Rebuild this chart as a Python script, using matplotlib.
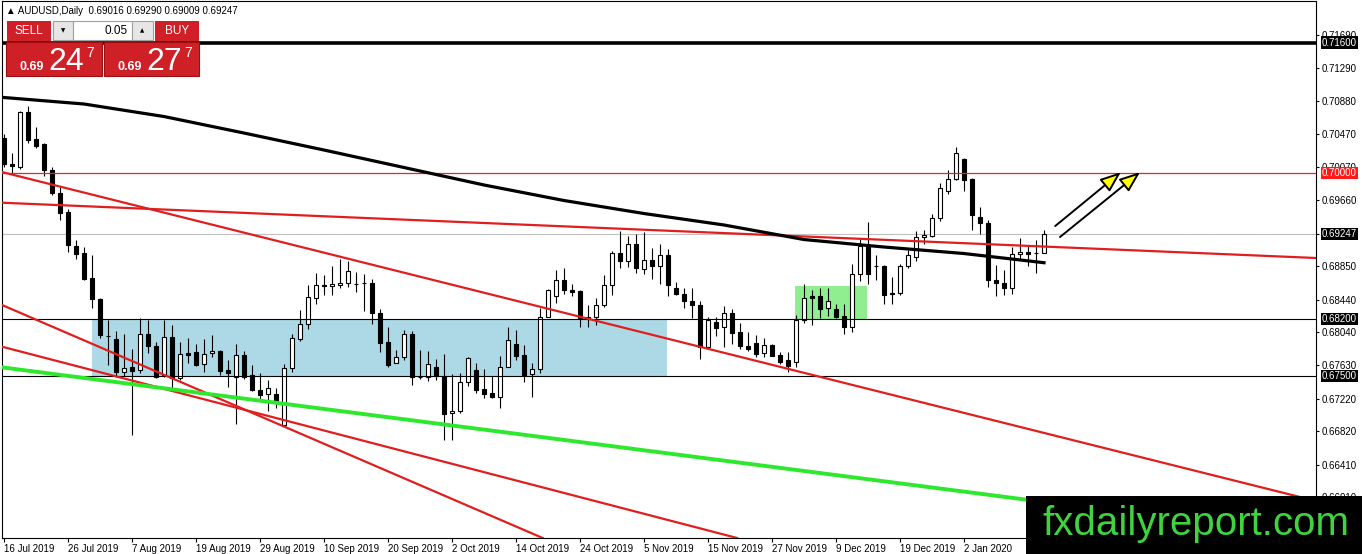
import numpy as np
import matplotlib
matplotlib.use("Agg")
import matplotlib.pyplot as plt
from matplotlib.patches import Rectangle

plt.rcParams["font.family"] = ["Liberation Sans", "DejaVu Sans"]

# AUDUSD daily candles, bar 0 = 16 Jul 2019
opens = [0.70432, 0.70110, 0.70073, 0.70751, 0.70413, 0.70355, 0.70037, 0.69748, 0.69514, 0.69093,
         0.69011, 0.68711, 0.68444, 0.67995, 0.67951, 0.67553, 0.67615, 0.67574, 0.68012, 0.67868,
         0.67513, 0.67983, 0.67472, 0.67779, 0.67791, 0.67648, 0.67779, 0.67807, 0.67574, 0.67492,
         0.67758, 0.67513, 0.67329, 0.67277, 0.67280, 0.66901, 0.67595, 0.67954, 0.68134, 0.68453,
         0.68616, 0.68604, 0.68616, 0.68644, 0.68637, 0.68649, 0.68649, 0.68269, 0.67919, 0.67664,
         0.67738, 0.68012, 0.67492, 0.67492, 0.67615, 0.67500, 0.67044, 0.67064, 0.67420, 0.67574,
         0.67337, 0.67289, 0.67247, 0.67615, 0.67889, 0.67758, 0.67525, 0.67582, 0.68228, 0.68481,
         0.68677, 0.68561, 0.68542, 0.68196, 0.68228, 0.68379, 0.68625, 0.69011, 0.68914, 0.69127,
         0.68820, 0.68931, 0.68849, 0.68984, 0.68576, 0.68514, 0.68420, 0.68379, 0.67860, 0.68166,
         0.68105, 0.68269, 0.68036, 0.67872, 0.67901, 0.67779, 0.67881, 0.67758, 0.67697, 0.67676,
         0.68187, 0.68481, 0.68481, 0.68330, 0.68322, 0.68236, 0.68097, 0.68751, 0.69093, 0.68849,
         0.68849, 0.68526, 0.68522, 0.68849, 0.68962, 0.69207, 0.69216, 0.69445, 0.69771, 0.69923,
         0.70168, 0.69923, 0.69461, 0.69384, 0.68685, 0.68649, 0.68576, 0.68995, 0.69024, 0.69011,
         0.69016]
highs = [0.70478, 0.70245, 0.70759, 0.70821, 0.70563, 0.70371, 0.70073, 0.69820, 0.69555, 0.69167,
         0.69085, 0.68993, 0.68457, 0.68187, 0.68056, 0.68016, 0.67828, 0.68215, 0.68187, 0.67921,
         0.68187, 0.68126, 0.67921, 0.67963, 0.67893, 0.67951, 0.68003, 0.67820, 0.67697, 0.67893,
         0.67811, 0.67636, 0.67533, 0.67452, 0.67350, 0.67648, 0.68012, 0.68309, 0.68616, 0.68763,
         0.68742, 0.68849, 0.68940, 0.68914, 0.68775, 0.68751, 0.68698, 0.68318, 0.68097, 0.67820,
         0.68065, 0.68052, 0.67820, 0.67807, 0.67705, 0.67770, 0.67525, 0.67533, 0.67738, 0.67657,
         0.67582, 0.67505, 0.67746, 0.68105, 0.68065, 0.67881, 0.67657, 0.68330, 0.68570, 0.68800,
         0.68833, 0.68628, 0.68560, 0.68371, 0.68453, 0.68739, 0.69036, 0.69282, 0.69216, 0.69249,
         0.69269, 0.69078, 0.69127, 0.69065, 0.68656, 0.68576, 0.68576, 0.68420, 0.68228, 0.68228,
         0.68358, 0.68322, 0.68146, 0.68036, 0.68003, 0.67963, 0.67890, 0.67799, 0.67799, 0.68248,
         0.68628, 0.68555, 0.68576, 0.68576, 0.68387, 0.68383, 0.68873, 0.69187, 0.69391, 0.68984,
         0.68860, 0.68718, 0.68882, 0.69054, 0.69289, 0.69298, 0.69494, 0.69869, 0.70033, 0.70322,
         0.70180, 0.69930, 0.69584, 0.69421, 0.68861, 0.68808, 0.69085, 0.69200, 0.69106, 0.69167,
         0.69290]
lows = [0.70073, 0.70000, 0.70049, 0.70371, 0.70302, 0.69963, 0.69730, 0.69421, 0.69024, 0.68940,
        0.68677, 0.68330, 0.67963, 0.67636, 0.67492, 0.67500, 0.66778, 0.67533, 0.67779, 0.67472,
        0.67492, 0.67350, 0.67452, 0.67657, 0.67623, 0.67553, 0.67738, 0.67513, 0.67370, 0.66913,
        0.67460, 0.67309, 0.67186, 0.67064, 0.67105, 0.66890, 0.67553, 0.67933, 0.68073, 0.68383,
        0.68493, 0.68493, 0.68579, 0.68591, 0.68534, 0.68301, 0.68138, 0.67799, 0.67608, 0.67657,
        0.67697, 0.67391, 0.67460, 0.67443, 0.67452, 0.66717, 0.66708, 0.67044, 0.67378, 0.67296,
        0.67228, 0.67228, 0.67105, 0.67608, 0.67697, 0.67431, 0.67240, 0.67533, 0.68220, 0.68399,
        0.68506, 0.68481, 0.68105, 0.68097, 0.68126, 0.68350, 0.68493, 0.68833, 0.68840, 0.68767,
        0.68759, 0.68698, 0.68628, 0.68481, 0.68493, 0.68330, 0.68208, 0.67705, 0.67850, 0.67987,
        0.67853, 0.67893, 0.67832, 0.67811, 0.67738, 0.67730, 0.67740, 0.67648, 0.67546, 0.67615,
        0.68154, 0.68126, 0.68208, 0.68236, 0.68208, 0.68012, 0.68044, 0.68669, 0.68636, 0.68685,
        0.68391, 0.68391, 0.68493, 0.68833, 0.68914, 0.69127, 0.69207, 0.69404, 0.69741, 0.69910,
        0.69780, 0.69296, 0.69249, 0.68595, 0.68485, 0.68502, 0.68514, 0.68926, 0.68852, 0.68767,
        0.69009]
closes = [0.70110, 0.70086, 0.70751, 0.70404, 0.70331, 0.70033, 0.69755, 0.69501, 0.69114, 0.68995,
          0.68698, 0.68444, 0.68003, 0.67990, 0.67553, 0.67595, 0.67566, 0.68012, 0.67868, 0.67492,
          0.67976, 0.67472, 0.67767, 0.67758, 0.67636, 0.67767, 0.67807, 0.67566, 0.67541, 0.67758,
          0.67484, 0.67329, 0.67268, 0.67350, 0.67167, 0.67595, 0.67963, 0.68138, 0.68469, 0.68616,
          0.68604, 0.68628, 0.68649, 0.68788, 0.68630, 0.68640, 0.68277, 0.67911, 0.67636, 0.67738,
          0.68012, 0.67492, 0.67484, 0.67644, 0.67500, 0.67035, 0.67064, 0.67420, 0.67718, 0.67329,
          0.67280, 0.67247, 0.67615, 0.67942, 0.67746, 0.67513, 0.67582, 0.68228, 0.68561, 0.68685,
          0.68561, 0.68534, 0.68208, 0.68228, 0.68379, 0.68625, 0.69011, 0.68914, 0.69127, 0.68833,
          0.68931, 0.68849, 0.68984, 0.68616, 0.68506, 0.68420, 0.68379, 0.67860, 0.68187, 0.68093,
          0.68277, 0.68032, 0.67872, 0.67832, 0.67770, 0.67881, 0.67746, 0.67676, 0.67627, 0.68187,
          0.68465, 0.68465, 0.68318, 0.68420, 0.68220, 0.68097, 0.68759, 0.69093, 0.68759, 0.68850,
          0.68502, 0.68514, 0.68849, 0.68993, 0.69207, 0.69237, 0.69445, 0.69812, 0.69923, 0.70241,
          0.69910, 0.69482, 0.69379, 0.68685, 0.68649, 0.68576, 0.68995, 0.69024, 0.69004, 0.69007,
          0.69247]

# moving average (thick black), read every 10 bars
ma_bars = [0, 10, 20, 30, 40, 50, 60, 70, 80, 90, 100, 110, 120, 130]
ma_vals = [0.70925, 0.70845, 0.70691, 0.70488, 0.70279, 0.70064, 0.69849, 0.69658,
           0.69498, 0.69357, 0.69178, 0.69086, 0.69006, 0.68893]

# time axis
date_bars = list(range(0, 121, 8))
date_labels = ["16 Jul 2019", "26 Jul 2019", "7 Aug 2019", "19 Aug 2019", "29 Aug 2019",
               "10 Sep 2019", "20 Sep 2019", "2 Oct 2019", "14 Oct 2019", "24 Oct 2019",
               "5 Nov 2019", "15 Nov 2019", "27 Nov 2019", "9 Dec 2019", "19 Dec 2019",
               "2 Jan 2020"]

# price axis
price_ticks = [0.71690, 0.71290, 0.70880, 0.70470, 0.70070, 0.69660, 0.69250, 0.68850,
               0.68440, 0.68040, 0.67630, 0.67220, 0.66820, 0.66410, 0.66010]
level_prices = [0.71600, 0.70000, 0.68200, 0.67500]
bid_price = 0.69247

# drawn objects: trend lines as (bar, price) pairs
red_lines = [((-0.25, 0.69631), (164.0, 0.68951)),
             ((-0.25, 0.70008), (164.0, 0.65962)),
             ((-0.25, 0.68373), (65.8, 0.65572)),
             ((-0.25, 0.67860), (89.1, 0.65572))]
green_line = ((-0.25, 0.67606), (164.0, 0.65518))
blue_zone_bars = (11.0, 82.9)
blue_zone_prices = (0.67500, 0.68200)
green_zone_bars = (98.9, 107.9)
green_zone_prices = (0.68200, 0.68606)
arrows = [((131.4, 0.69344), (139.6, 0.70006)),
          ((132.0, 0.69209), (142.0, 0.70006))]

W, H = 1362, 554
fig = plt.figure(figsize=(W / 100, H / 100), dpi=100)
ax = fig.add_axes([2 / W, 16 / H, 1314 / W, 537 / H])
ax.set_xlim(-0.25, 164.0)
ax.set_ylim(0.65507, 0.72112)

bars = np.arange(len(opens))
o = np.array(opens)
c = np.array(closes)
up = c > o

# zones behind the candles
ax.add_patch(Rectangle((blue_zone_bars[0], blue_zone_prices[0]), blue_zone_bars[1] - blue_zone_bars[0],
                       blue_zone_prices[1] - blue_zone_prices[0], color="#add8e6", lw=0, zorder=1))
ax.add_patch(Rectangle((green_zone_bars[0], green_zone_prices[0]), green_zone_bars[1] - green_zone_bars[0],
                       green_zone_prices[1] - green_zone_prices[0], color="#90ee90", lw=0, zorder=1))

# candles
ax.vlines(bars, lows, highs, color="black", lw=0.8, zorder=3)
body_h = np.maximum(np.abs(c - o), 0.00002)
ax.bar(bars, body_h, bottom=np.minimum(o, c), width=0.62,
       color=np.where(up, "white", "black"), edgecolor="black", lw=0.8, zorder=4)

# horizontal levels
ax.axhline(bid_price, color="#c0c0c0", lw=0.8, zorder=2)
ax.axhline(level_prices[0], color="black", lw=2.6, zorder=5)
ax.axhline(level_prices[1], color="#e3262a", lw=0.9, zorder=5)
ax.axhline(level_prices[2], color="black", lw=0.8, zorder=5)
ax.axhline(level_prices[3], color="black", lw=0.8, zorder=5)

# trend lines
for p1, p2 in red_lines:
    ax.axline(p1, p2, color="#e01e1e", lw=1.6, zorder=5)
ax.axline(green_line[0], green_line[1], color="#2ee82e", lw=2.8, zorder=5)

# moving average
ax.plot(ma_bars, ma_vals, color="black", lw=2.3, zorder=6)

# arrows
for start, end in arrows:
    ax.annotate("", xy=end, xytext=start,
                arrowprops=dict(arrowstyle="-|>,head_length=0.9,head_width=0.35", fc="#ffff00",
                                ec="black", lw=1.4, mutation_scale=14, shrinkA=0, shrinkB=0),
                zorder=7)

# axes look
for s in ax.spines.values():
    s.set_color("black")
    s.set_linewidth(0.8)
ax.yaxis.tick_right()
ax.set_yticks(price_ticks)
ax.set_yticklabels(["%.5f" % p for p in price_ticks])
ax.tick_params(axis="y", direction="out", length=2.5, pad=1.8, labelsize=7)
ax.set_xticks(date_bars)
ax.set_xticklabels(date_labels, ha="left")
ax.tick_params(axis="x", direction="out", length=3, pad=1.5, labelsize=7)

# highlighted price labels
boxed = [(level_prices[0], "black"), (level_prices[1], "#ff1a1a"), (bid_price, "black"),
         (level_prices[2], "black"), (level_prices[3], "black")]
for val, col in boxed:
    ax.annotate("%.5f" % val, xy=(1, val), xycoords=ax.get_yaxis_transform(),
                xytext=(4.3, 0), textcoords="offset points", ha="left", va="center",
                fontsize=7, color="white", annotation_clip=False, zorder=10,
                bbox=dict(boxstyle="square,pad=0.12", fc=col, ec="none"))

fig.text(6 / W, 1 - 10.5 / H, "\u25b2 AUDUSD,Daily  0.69016 0.69290 0.69009 0.69247",
         fontsize=7, va="center", ha="left")

# overlay in pixel space for the trade panel and the watermark
ov = fig.add_axes([0, 0, 1, 1])
ov.set_xlim(0, W)
ov.set_ylim(H, 0)
ov.axis("off")
ov.set_zorder(10)

red = "#cf2027"
ov.add_patch(Rectangle((7, 21), 44, 20, fc=red, ec="none"))
ov.add_patch(Rectangle((155, 21), 44, 20, fc=red, ec="none"))
ov.add_patch(Rectangle((53, 21), 20, 19, fc="#e6e6e6", ec="#a0a0a0", lw=0.8))
ov.add_patch(Rectangle((73, 21), 59, 19, fc="white", ec="#a0a0a0", lw=0.8))
ov.add_patch(Rectangle((132, 21), 21, 19, fc="#e6e6e6", ec="#a0a0a0", lw=0.8))
ov.add_patch(Rectangle((6, 41.5), 96, 34.5, fc=red, ec="#9a1010", lw=0.8))
ov.add_patch(Rectangle((104, 41.5), 95, 34.5, fc=red, ec="#9a1010", lw=0.8))
ov.text(29, 31, "SELL", color="white", fontsize=8.5, ha="center", va="center")
ov.text(177, 31, "BUY", color="white", fontsize=8.5, ha="center", va="center")
ov.text(63, 30.5, "\u25bc", color="black", fontsize=4, ha="center", va="center", family="DejaVu Sans")
ov.text(142.5, 30.5, "\u25b2", color="black", fontsize=4, ha="center", va="center", family="DejaVu Sans")
ov.text(128, 31, "0.05", color="black", fontsize=8.5, ha="right", va="center")
for x0, big in [(19, "24"), (117, "27")]:
    ov.text(x0, 70, "0.69", color="white", fontsize=9, fontweight="bold", ha="left", va="baseline")
    ov.text(x0 + 29, 70, big, color="white", fontsize=23, ha="left", va="baseline")
    ov.text(x0 + 67, 57, "7", color="white", fontsize=10, ha="left", va="baseline")

ov.add_patch(Rectangle((1026, 496), 336, 58, fc="black", ec="none"))
ov.text(1042, 535, "fxdailyreport.com", color="#3fd33f", fontsize=29, ha="left", va="baseline")

fig.savefig("out.png", dpi=100)
